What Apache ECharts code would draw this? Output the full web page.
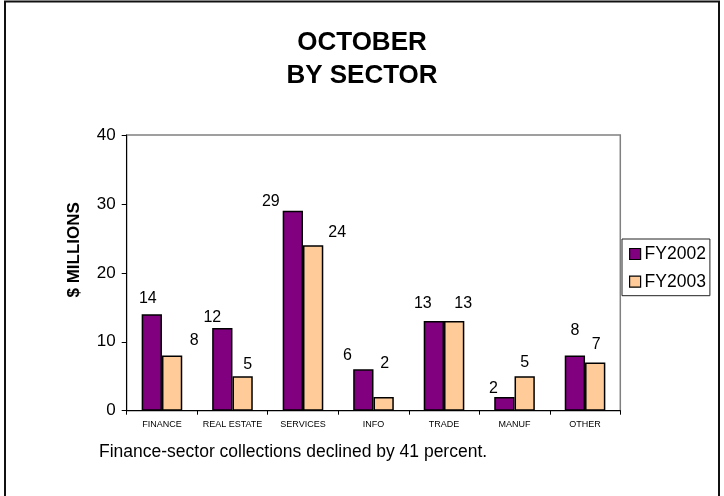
<!DOCTYPE html>
<html>
<head>
<meta charset="utf-8">
<title>October by sector</title>
<script src="https://cdn.jsdelivr.net/npm/echarts@6/dist/echarts.min.js"></script>
<style>
  html, body { margin: 0; padding: 0; background: #fff; }
  #chart { width: 724px; height: 496px; }
</style>
</head>
<body>
<div id="chart"></div>
<script>
// values ($ millions)
const sectors = ['FINANCE', 'REAL ESTATE', 'SERVICES', 'INFO', 'TRADE', 'MANUF', 'OTHER']
const fy2002 = [14, 12, 29, 6, 13, 2, 8]
const fy2003 = [8, 5, 24, 2, 13, 5, 7]
const yTicks = [0, 10, 20, 30, 40]
const footnote = 'Finance-sector collections declined by 41 percent.'

// the data labels were dragged by hand in the original, so nudge them the same way
const offsets2002 = [[-4, -3], [-10, 3], [-22, 4], [-16, -1], [-11, -5], [-11, 5], [0, -12]]
const offsets2003 = [[22, -2], [5, 1], [24, 0], [1, -20], [9, -5], [0, -1], [1, -5]]

const font = 'Arial, "Liberation Sans", Helvetica, sans-serif'

function withOffsets (values, offsets) {
  return values.map((v, i) => ({ value: v, label: { offset: offsets[i] } }))
}

const chart = echarts.init(document.getElementById('chart'), null, { renderer: 'canvas' })

const barLabel = {
  show: true,
  position: 'top',
  distance: 5,
  color: '#000',
  fontFamily: font,
  fontSize: 16
}

const option = {
  backgroundColor: '#fff',
  animation: false,
  textStyle: { fontFamily: font },
  title: {
    text: 'OCTOBER\nBY SECTOR',
    left: 'center',
    top: 26,
    padding: 0,
    textStyle: {
      fontFamily: font,
      fontSize: 26,
      fontWeight: 'bold',
      color: '#000',
      lineHeight: 33.5
    }
  },
  grid: {
    left: 126.7,
    right: 103.7,
    top: 135,
    bottom: 85.3,
    show: true,
    borderColor: '#808080',
    borderWidth: 1.5,
    backgroundColor: '#fff'
  },
  legend: {
    orient: 'vertical',
    left: 622,
    top: 239,
    padding: [6, 4, 5, 7],
    itemGap: 9.7,
    itemWidth: 11,
    itemHeight: 11,
    icon: 'rect',
    backgroundColor: '#fff',
    borderColor: '#222',
    borderWidth: 1,
    itemStyle: { borderColor: '#000', borderWidth: 1.2 },
    textStyle: {
      fontFamily: font,
      fontSize: 17.5,
      lineHeight: 18,
      color: '#000',
      padding: [0, 0, 0, -1]
    },
    data: ['FY2002', 'FY2003']
  },
  xAxis: {
    type: 'category',
    data: sectors,
    axisLine: { lineStyle: { color: '#000', width: 1 } },
    axisTick: { show: true, length: 4, inside: false, lineStyle: { color: '#000' } },
    axisLabel: {
      color: '#000',
      fontFamily: font,
      fontSize: 9,
      margin: 9,
      interval: 0
    },
    splitLine: { show: false }
  },
  yAxis: {
    type: 'value',
    min: yTicks[0],
    max: yTicks[yTicks.length - 1],
    interval: yTicks[1] - yTicks[0],
    name: '$ MILLIONS',
    nameLocation: 'middle',
    nameGap: 44,
    nameRotate: 90,
    nameTextStyle: {
      fontFamily: font,
      fontSize: 17,
      fontWeight: 'bold',
      color: '#000',
      padding: [0, 0, 0, 46]
    },
    axisLine: { show: true, lineStyle: { color: '#000', width: 1 } },
    axisTick: { show: true, length: 5, inside: false, lineStyle: { color: '#000' } },
    axisLabel: {
      color: '#000',
      fontFamily: font,
      fontSize: 17,
      margin: 11
    },
    splitLine: { show: false }
  },
  series: [
    {
      name: 'FY2002',
      type: 'bar',
      data: withOffsets(fy2002, offsets2002),
      barWidth: 20.3,
      barGap: '0%',
      itemStyle: { color: '#800080', borderColor: '#000', borderWidth: 1.5 },
      label: barLabel
    },
    {
      name: 'FY2003',
      type: 'bar',
      data: withOffsets(fy2003, offsets2003),
      barWidth: 20.3,
      barGap: '0%',
      itemStyle: { color: '#FFCC99', borderColor: '#000', borderWidth: 1.5 },
      label: barLabel
    }
  ],
  graphic: [
    {
      type: 'rect',
      silent: true,
      z: 100,
      shape: { x: 5, y: 1.5, width: 714, height: 520 },
      style: { fill: 'none', stroke: '#111', lineWidth: 2 }
    },
    {
      type: 'text',
      left: 99,
      top: 443,
      style: {
        text: footnote,
        fontFamily: font,
        fontSize: 17.5,
        fill: '#000'
      }
    }
  ]
}

chart.setOption(option)
</script>
</body>
</html>
